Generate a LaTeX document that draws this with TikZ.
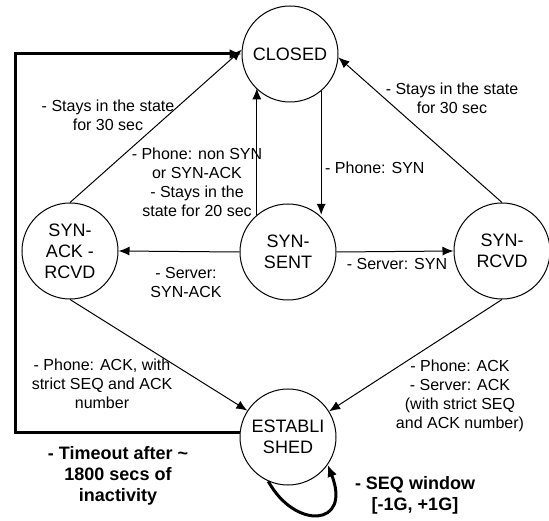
\documentclass[tikz,border=0pt]{standalone}
\usepackage{fontspec}
\setmainfont{Liberation Sans}
\usetikzlibrary{arrows.meta}
\begin{document}
\begin{tikzpicture}[x=1pt,y=-1pt,
  state/.style={circle, draw, line width=1pt, minimum size=96pt, inner sep=0pt,
    align=center, font=\fontsize{18}{21}\selectfont},
  lbl/.style={align=center, inner sep=0pt, font=\fontsize{16}{19}\selectfont},
  blbl/.style={align=center, inner sep=0pt, font=\bfseries\fontsize{18}{21}\selectfont},
  arr/.style={-{Latex[length=11pt,width=9pt]}, line width=1pt},
  heavyarr/.style={-{Latex[length=12pt,width=10pt]}, line width=3pt}]
\useasboundingbox (0,0) rectangle (549,521);

% states
\node[state] (closed) at (290,54)  {CLOSED};
\node[state] (sar)    at (70,251)  {SYN-\\ACK -\\RCVD};
\node[state] (sent)   at (288,252) {SYN-\\SENT};
\node[state] (rcvd)   at (502,251) {SYN-\\RCVD};
\node[state] (est)    at (288,437) {ESTABLI\\SHED};

% timeout path back to CLOSED
\coordinate (cornerTL) at (15,54);
\draw[heavyarr] (est.175) -| (cornerTL) -- (closed.west);

% transitions
\draw[arr] (sar.north) -- (closed.175);
\draw[arr] (sent.130) -- (sent.130 |- closed.225);
\draw[arr] (closed.-50) -- (closed.-50 |- sent.50);
\draw[arr] (rcvd.north) -- (closed.-4);
\draw[arr] (sent.west) -- (sar.east);
\draw[arr] (sent.east) -- (rcvd.west);
\draw[arr] (sar.south) -- (est.147);
\draw[arr] (rcvd.south) -- (est.32);
\draw[heavyarr] (est.-114) .. controls (295,530) and (352,527) .. (est.-35);

% labels
\node[lbl] (l1) at (108,115) {- Stays in the state\\for 30 sec};
\node[lbl] (l2) at (197,182) {- Phone: non SYN\\or SYN-ACK\\- Stays in the\\state for 20 sec};
\node[lbl, anchor=west] (l3) at (325,168) {- Phone: SYN};
\node[lbl] (l4) at (452,98) {- Stays in the state\\for 30 sec};
\node[lbl] (l5) at (186,282) {- Server:\\SYN-ACK};
\node[lbl] (l6) at (397,264) {- Server: SYN};
\node[lbl] (l7) at (102,384) {- Phone: ACK, with\\strict SEQ and ACK\\number};
\node[lbl] (l8) at (460,396) {- Phone: ACK\\- Server: ACK\\(with strict SEQ\\and ACK number)};
\node[blbl] (l9) at (415,495) {- SEQ window\\{[-1G, +1G]}};
\node[blbl] (l10) at (118,476) {- Timeout after \textasciitilde\\1800 secs of\\inactivity};
\end{tikzpicture}
\end{document}
